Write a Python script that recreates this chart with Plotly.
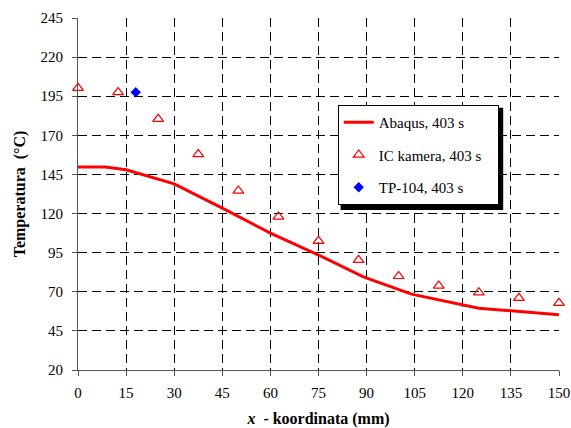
import plotly.graph_objects as go

# Abaqus simulation line
abaqus_x = [0, 8.5, 15, 30, 45, 60, 75, 89, 104, 125, 150]
abaqus_y = [149.7, 149.7, 148, 139, 123.5, 107.5, 93.5, 79.5, 68.5, 59.5, 55.3]

# IC camera measurements
ic_x = [0, 12.5, 25, 37.5, 50, 62.5, 75, 87.5, 100, 112.5, 125, 137.5, 150]
ic_y = [200.2, 197.5, 180.4, 157.9, 134.6, 118, 102.4, 90.3, 80, 73.8, 69.6, 66, 62.8]

# Thermocouple TP-104
tp_x = [18]
tp_y = [197.5]

x_ticks = [0, 15, 30, 45, 60, 75, 90, 105, 120, 135, 150]
y_ticks = [20, 45, 70, 95, 120, 145, 170, 195, 220, 245]

serif = "Liberation Serif, Times New Roman, serif"
pad = "\u00a0\u00a0\u00a0"

fig = go.Figure()
fig.add_trace(go.Scatter(x=abaqus_x, y=abaqus_y, mode="lines", name="Abaqus, 403 s" + pad,
                         line=dict(color="#ff0000", width=3), legendgroup="a", cliponaxis=False))
fig.add_trace(go.Scatter(x=ic_x, y=ic_y, mode="markers", name="IC kamera, 403 s" + pad,
                         marker=dict(symbol="triangle-up-open", color="#ff0000", size=9.5,
                                     line=dict(width=1.2, color="#ff0000")),
                         legendgroup="b", cliponaxis=False))
fig.add_trace(go.Scatter(x=tp_x, y=tp_y, mode="markers", name="TP-104, 403 s" + pad,
                         marker=dict(symbol="diamond", color="#0000ff", size=8),
                         legendgroup="c", cliponaxis=False))

# legend shadow (offset by a few pixels to the lower right)
fig.add_shape(type="rect", xref="paper", yref="paper",
              x0=0.546, x1=0.884, y0=0.4545, y1=0.745,
              fillcolor="black", line=dict(width=0), layer="above")

fig.update_layout(
    width=571, height=428,
    margin=dict(l=78, r=12, t=18, b=58, autoexpand=False),
    paper_bgcolor="white", plot_bgcolor="white",
    font=dict(family=serif, size=15, color="black"),
    showlegend=True,
    legend=dict(x=0.54, y=0.753, xanchor="left", yanchor="top",
                bgcolor="white", bordercolor="black", borderwidth=1,
                font=dict(family=serif, size=15), tracegroupgap=10,
                traceorder="grouped", itemwidth=30),
    xaxis=dict(range=[0, 150], tickvals=x_ticks, ticktext=[str(v) for v in x_ticks],
               showgrid=True, gridcolor="black", gridwidth=1, griddash="9px,5px",
               showline=True, linecolor="#555555", linewidth=1,
               ticks="outside", ticklen=5, tickcolor="#555555", automargin=False,
               ticklabelstandoff=4, ticklabeloverflow="allow",
               zeroline=False, tickfont=dict(family=serif, size=15),
               title=dict(text="<b><i>x</i>  - koordinata (mm)</b>",
                          font=dict(family=serif, size=16), standoff=13)),
    yaxis=dict(range=[20, 245], tickvals=y_ticks, ticktext=[str(v) for v in y_ticks],
               showgrid=True, gridcolor="black", gridwidth=1, griddash="9px,5px",
               showline=True, linecolor="#555555", linewidth=1,
               ticks="outside", ticklen=5, tickcolor="#555555", automargin=False,
               ticklabelstandoff=6,
               zeroline=False, tickfont=dict(family=serif, size=15),
               title=dict(text="<b>Temperatura  (°C)</b>",
                          font=dict(family=serif, size=16), standoff=10)),
)

# remove the default page margin so the figure fills the window exactly
fig.write_html("out.html", config={"displayModeBar": False},
               post_script="document.body.style.margin='0';")
